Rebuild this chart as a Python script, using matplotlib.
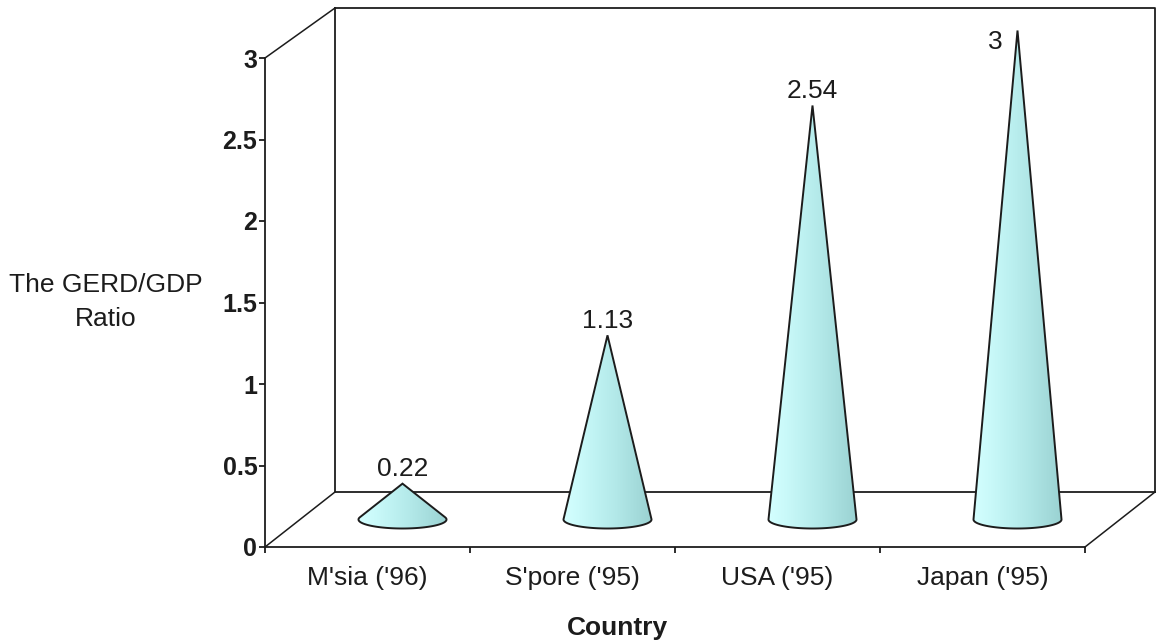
import numpy as np
import matplotlib.pyplot as plt
from matplotlib.patches import Polygon
from matplotlib.colors import LinearSegmentedColormap

plt.rcParams['font.family'] = ['Liberation Sans', 'DejaVu Sans']

# ---- data ----
countries = ["M'sia ('96)", "S'pore ('95)", "USA ('95)", "Japan ('95)"]
ratios = [0.22, 1.13, 2.54, 3]
yticks = [0, 0.5, 1, 1.5, 2, 2.5, 3]

# ---- figure / scales ----
W, H = 1159, 644
fig = plt.figure(figsize=(W / 100, H / 100), dpi=100)
ax = fig.add_axes([0, 0, 1, 1])

# front plane of the 3-d box: 205 px per category, 163 px per unit
px_x, px_y = 205.0, 163.0
x0, y0 = 265, 547          # pixel position of the origin
dx, dy = 70 / px_x, 55 / px_y   # depth of the box in data units
top = 3 + 50 / px_y             # top edge of the back wall

ink = '#1c1c1c'
lw = 1.3

# ---- box walls ----
ax.plot([dx, 4 + dx, 4 + dx], [top, top, dy], color=ink, lw=lw, zorder=1)
ax.plot([dx, dx, 4 + dx], [top, dy, dy], color=ink, lw=lw, zorder=1)
ax.plot([0, dx], [0, dy], color=ink, lw=1.1, zorder=1)
ax.plot([4, 4 + dx], [0, dy], color=ink, lw=1.1, zorder=1)
ax.plot([0, dx], [3, top], color=ink, lw=1.1, zorder=1)

# ---- cones ----
cone_cmap = LinearSegmentedColormap.from_list(
    'cone', ['#d4ffff', '#c9f9f9', '#bdf1f1', '#b2e8e8', '#a6dddd', '#9ad2d2'])
grad = np.linspace(0, 1, 256)[None, :]
rx, ry = 44 / px_x, 9 / px_y

for i, v in enumerate(ratios):
    cx = i + 0.5 + dx / 2
    cy = dy / 2
    tip = cy + v
    # silhouette: tangents from the apex to the base ellipse
    th_t = np.arcsin(min(ry / v, 0.999))
    th = np.linspace(th_t, -np.pi - th_t, 80)
    xs = cx + rx * np.cos(th)
    ys = cy + ry * np.sin(th)
    pts = np.column_stack([np.r_[cx, xs], np.r_[tip, ys]])
    poly = Polygon(pts, closed=True, facecolor='none', edgecolor=ink,
                   lw=1.4, joinstyle='miter', zorder=4)
    ax.add_patch(poly)
    im = ax.imshow(grad, cmap=cone_cmap, aspect='auto', interpolation='bilinear',
                   extent=(cx - rx, cx + rx, cy - ry - 0.02, tip + 0.01), zorder=3)
    im.set_clip_path(poly)

    # value label above the apex, beside it when it reaches the top
    if v >= max(yticks):
        ax.annotate(f'{v:g}', (cx, tip), xytext=(-11, -8), textcoords='offset points',
                    ha='right', va='center', fontsize=19, color=ink)
    else:
        ax.annotate(f'{v:g}', (cx, tip), xytext=(0, 2), textcoords='offset points',
                    ha='center', va='bottom', fontsize=19, color=ink)

# ---- front axes ----
for s in ['top', 'right']:
    ax.spines[s].set_visible(False)
ax.spines['left'].set_position(('data', 0))
ax.spines['left'].set_bounds(0, 3)
ax.spines['bottom'].set_position(('data', 0))
ax.spines['bottom'].set_bounds(0, 4)
for s in ['left', 'bottom']:
    ax.spines[s].set_color(ink)
    ax.spines[s].set_linewidth(lw)
    ax.spines[s].set_zorder(5)

ax.set_yticks(yticks)
ax.set_yticklabels([f'{t:g}' for t in yticks], fontsize=18, fontweight='bold')
ax.tick_params(axis='y', direction='out', length=4, width=lw, pad=1.5, colors=ink)

ax.set_xticks(np.arange(5))
ax.set_xticklabels([])
ax.tick_params(axis='x', which='major', direction='out', length=4.5, width=lw, colors=ink)
ax.set_xticks(np.arange(4) + 0.5, minor=True)
ax.set_xticklabels(countries, minor=True, fontsize=19, color=ink)
ax.tick_params(axis='x', which='minor', length=0, pad=14)

ax.set_xlim(-x0 / px_x, (W - x0) / px_x)
ax.set_ylim(-(H - y0) / px_y, y0 / px_y)

fig.text(106 / W, 1 - 302 / H, 'The GERD/GDP\nRatio', ha='center', va='center',
         fontsize=19, linespacing=1.5, color=ink)
fig.text(617 / W, 1 - 628 / H, 'Country', ha='center', va='center',
         fontsize=19, fontweight='bold', color=ink)

fig.savefig('out.png', dpi=100, facecolor='white')
